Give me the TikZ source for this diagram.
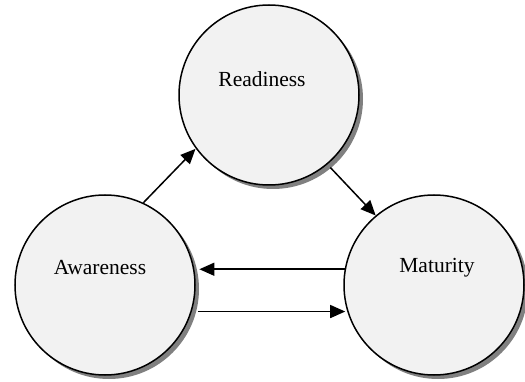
\documentclass[tikz,border=0pt]{standalone}
\usepackage{fontspec}
\setmainfont{Liberation Serif}
\usetikzlibrary{arrows.meta,shadows}
\definecolor{blobfill}{HTML}{F2F2F2}
\tikzset{
  blob/.style={circle, draw=black, line width=1.5pt, fill=blobfill, minimum size=180pt, inner sep=0pt,
    drop shadow={shadow xshift=4pt, shadow yshift=-4pt, fill=black!50, opacity=1}},
  txt/.style={font=\fontsize{21.5pt}{25pt}\selectfont, inner sep=0pt},
  arr/.style={line width=1.5pt, -{Triangle[length=15pt,width=13pt]}}
}
\begin{document}
\begin{tikzpicture}[x=1pt,y=-1pt]
\useasboundingbox (0,0) rectangle (525,382);
\node[blob] (rd) at (269,95) {};
\node[blob] (aw) at (105,285) {};
\node[blob] (mt) at (434,285) {};
\node[txt] (rdt) at ([shift={(-7pt,16pt)}]rd.center) {Readiness};
\node[txt] (awt) at ([shift={(-5pt,17pt)}]aw.center) {Awareness};
\node[txt] (mtt) at ([shift={(3pt,17pt)}]mt.center) {Maturity};
\draw[arr] (aw.65) -- ([shift={(-2pt,2pt)}]rd.218);
\draw[arr] ([shift={(3pt,-3pt)}]rd.-50) -- (mt.130);
\draw[arr] (mt.170) -- ([xshift=5pt]aw.10);
\draw[arr] ([xshift=6pt]aw.-17.5) -- ([xshift=-2pt]mt.197.5);
\end{tikzpicture}
\end{document}
